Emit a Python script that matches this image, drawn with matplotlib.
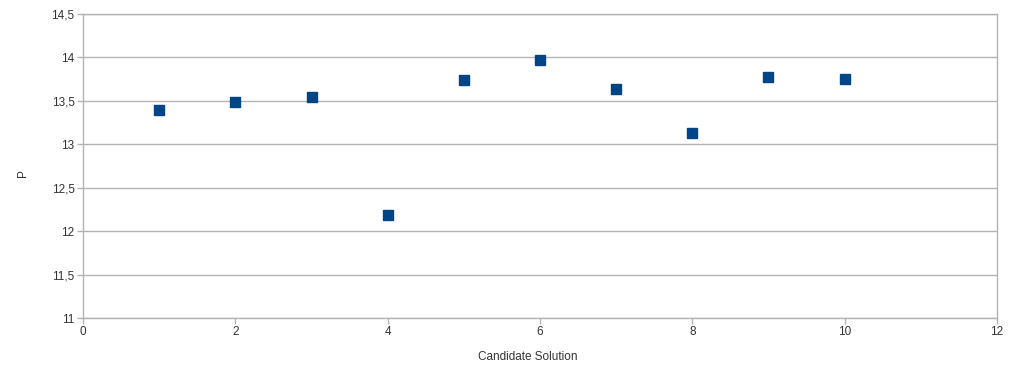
import matplotlib
matplotlib.use("Agg")
import matplotlib.pyplot as plt
from matplotlib.ticker import FuncFormatter

x_vals = [1, 2, 3, 4, 5, 6, 7, 8, 9, 10]
p_vals = [13.40, 13.49, 13.545, 12.19, 13.745, 13.97, 13.64, 13.13, 13.775, 13.755]
x_ticks = [0, 2, 4, 6, 8, 10, 12]
y_ticks = [11, 11.5, 12, 12.5, 13, 13.5, 14, 14.5]

plt.rcParams['font.family'] = ['Liberation Sans', 'DejaVu Sans']
fig = plt.figure(figsize=(10.23, 3.79), dpi=100)
ax = fig.add_axes([83/1023, 1-318/379, (997-83)/1023, (318-14)/379])

grid_c = '#b3b3b3'
ax.set_xlim(0, 12)
ax.set_ylim(11, 14.5)
ax.set_xticks(x_ticks)
ax.set_yticks(y_ticks)
ax.yaxis.set_major_formatter(FuncFormatter(lambda v, p: (('%g' % v).replace('.', ','))))
ax.grid(axis='y', color=grid_c, linewidth=1)
ax.set_axisbelow(True)
for s in ['left', 'bottom', 'right', 'top']:
    ax.spines[s].set_color(grid_c)
    ax.spines[s].set_linewidth(1)
ax.tick_params(axis='both', colors=grid_c, labelcolor='#333333', labelsize=8.5, length=4, width=1, direction='out')
ax.tick_params(axis='y', pad=2)
ax.tick_params(axis='x', pad=2)
ax.tick_params(right=False, top=False)

ax.plot(x_vals, p_vals, linestyle='none', marker='s', markersize=7, color='#004586', zorder=3)

ax.set_xlabel('Candidate Solution', fontsize=8.5, color='#333333')
ax.xaxis.set_label_coords((528-83)/914, -(357-318)/304, transform=ax.transAxes)
ax.set_ylabel('P', fontsize=8.5, color='#333333')
ax.yaxis.set_label_coords((23-83)/914, (318-173)/304, transform=ax.transAxes)
ax.xaxis.label.set_va('center')
ax.yaxis.label.set_va('center')

fig.savefig('out.png', dpi=100)
